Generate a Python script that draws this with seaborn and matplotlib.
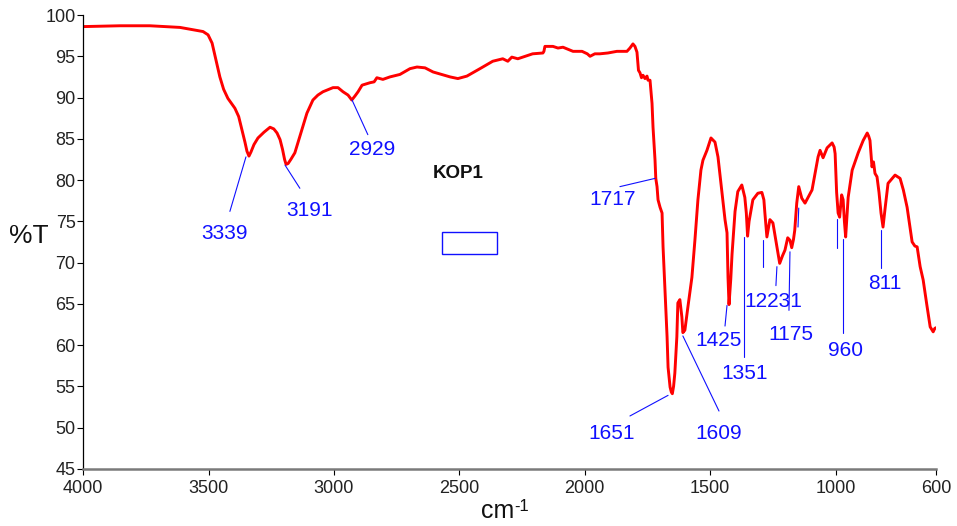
import matplotlib
matplotlib.use("Agg")
import matplotlib.pyplot as plt
import matplotlib.patches as mpatches
import pandas as pd
import seaborn as sns

# FTIR spectrum of sample KOP1 (wavenumber in cm-1, transmittance in %)
wavenumber = [
    4000, 3853, 3734, 3614, 3522, 3502, 3486, 3470, 3455, 3440, 3423, 3395,
    3380, 3367, 3355, 3347, 3339, 3331, 3319, 3303, 3279, 3255, 3240, 3227,
    3215, 3205, 3197, 3191, 3183, 3172, 3156, 3132, 3108, 3084, 3064, 3044,
    3004, 2984, 2964, 2944, 2929, 2916, 2904, 2888, 2856, 2840, 2829, 2805,
    2777, 2737, 2697, 2669, 2637, 2605, 2537, 2506, 2470, 2418, 2367, 2327,
    2307, 2291, 2267, 2208, 2167, 2163, 2159, 2127, 2107, 2087, 2047, 2011,
    1990, 1979, 1960, 1940, 1908, 1872, 1832, 1820, 1808, 1800, 1792, 1786,
    1780, 1774, 1768, 1760, 1752, 1748, 1740, 1732, 1728, 1720, 1717, 1712,
    1708, 1700, 1692, 1688, 1680, 1672, 1668, 1660, 1655, 1651, 1646, 1641,
    1633, 1629, 1621, 1613, 1609, 1601, 1589, 1573, 1561, 1549, 1537, 1529,
    1513, 1497, 1481, 1469, 1453, 1441, 1433, 1429, 1425, 1418, 1413, 1401,
    1390, 1374, 1362, 1356, 1351, 1345, 1330, 1310, 1294, 1286, 1282, 1274,
    1262, 1250, 1236, 1223, 1212, 1202, 1191, 1182, 1175, 1168, 1163, 1155,
    1147, 1135, 1122, 1094, 1070, 1062, 1050, 1034, 1014, 1006, 1002, 996,
    990, 984, 976, 970, 965, 960, 955, 950, 934, 910, 890, 874, 868, 863,
    855, 849, 843, 835, 827, 819, 811, 803, 791, 763, 743, 730, 715, 695,
    684, 675, 663, 651, 637, 623, 611, 605, 600,
]
transmittance = [
    98.6, 98.7, 98.7, 98.5, 98.0, 97.6, 96.6, 94.5, 92.5, 91.0, 89.9, 88.7,
    87.7, 86.1, 84.6, 83.5, 82.9, 83.4, 84.3, 85.1, 85.8, 86.4, 86.2, 85.7,
    84.9, 83.7, 82.5, 81.9, 82.0, 82.5, 83.3, 85.7, 88.1, 89.7, 90.3, 90.7,
    91.2, 91.2, 90.7, 90.3, 89.7, 90.2, 90.7, 91.5, 91.8, 91.9, 92.4, 92.2,
    92.5, 92.8, 93.5, 93.7, 93.6, 93.1, 92.5, 92.3, 92.6, 93.5, 94.4, 94.7,
    94.4, 94.9, 94.7, 95.3, 95.4, 95.6, 96.2, 96.2, 96.0, 96.1, 95.6, 95.6,
    95.3, 95.0, 95.3, 95.3, 95.4, 95.6, 95.6, 96.0, 96.5, 96.2, 95.5, 93.3,
    93.0, 92.4, 92.7, 92.3, 92.6, 92.1, 92.1, 89.3, 86.4, 82.4, 80.2, 79.2,
    77.6, 76.7, 76.0, 71.9, 66.3, 61.0, 57.3, 54.9, 54.3, 54.1, 55.0, 56.6,
    61.0, 65.1, 65.5, 63.4, 61.5, 61.8, 64.6, 68.2, 72.7, 77.6, 81.2, 82.4,
    83.6, 85.1, 84.6, 82.8, 78.4, 75.2, 73.6, 68.2, 64.9, 68.0, 71.0, 76.2,
    78.6, 79.4, 77.9, 76.0, 73.2, 75.0, 77.6, 78.4, 78.5, 77.6, 76.0, 73.1,
    75.2, 74.8, 72.3, 69.9, 70.8, 71.5, 73.0, 72.7, 71.8, 72.8, 73.9, 77.2,
    79.2, 77.8, 77.2, 78.8, 82.8, 83.6, 82.7, 83.9, 84.5, 84.0, 83.2, 78.5,
    76.0, 75.5, 78.2, 77.6, 75.0, 73.1, 75.5, 77.9, 81.2, 83.3, 84.8, 85.7,
    85.3, 84.8, 81.6, 82.2, 80.8, 80.4, 78.5, 76.0, 74.3, 76.5, 79.6, 80.6,
    80.2, 78.8, 76.7, 72.5, 72.0, 71.9, 69.5, 67.9, 65.0, 62.2, 61.6, 62.0,
    62.1,
]

# Peak labels: text anchor and leader line (from text end to the band)
peak_labels = ["3339", "3191", "2929", "1717", "1651", "1609",
               "1425", "1351", "12231", "1175", "960", "811"]
label_wn = [3435, 3096, 2849, 1888, 1892, 1465, 1465, 1362, 1250, 1178, 959, 804]
label_t = [73.5, 76.3, 83.7, 77.6, 49.3, 49.3, 60.6, 56.5, 65.3, 61.3, 59.3, 67.4]

leader_wn0 = [3415, 3136, 2865, 1860, 1820, 1465, 1441, 1366, 1290, 1234, 1182, 1147, 995, 971, 820]
leader_t0 = [76.2, 79.0, 85.5, 79.2, 51.4, 52.0, 62.3, 73.1, 72.7, 69.5, 71.3, 76.6, 75.3, 72.8, 73.9]
leader_wn1 = [3351, 3195, 2928, 1720, 1668, 1609, 1433, 1366, 1290, 1238, 1186, 1150, 995, 971, 820]
leader_t1 = [82.8, 81.8, 89.7, 80.2, 53.9, 61.1, 64.8, 58.5, 69.5, 67.2, 64.2, 74.3, 71.8, 61.5, 69.3]

sample_name = "KOP1"
sample_box_wn = [2570, 2351]
sample_box_t = [71.0, 73.7]

x_ticks = [4000, 3500, 3000, 2500, 2000, 1500, 1000, 600]
y_ticks = [45, 50, 55, 60, 65, 70, 75, 80, 85, 90, 95, 100]

sns.set_style("ticks")
plt.rcParams["font.family"] = ["Liberation Sans", "DejaVu Sans"]

fig = plt.figure(figsize=(9.57, 5.26), dpi=100)
ax = fig.add_axes([0.0869, 0.1088, 0.8911, 0.8626])

df = pd.DataFrame({"wavenumber": wavenumber, "T": transmittance})
sns.lineplot(data=df, x="wavenumber", y="T", sort=False, color="#ff0000",
             linewidth=2.1, ax=ax)

blue = "#1010ff"
for w0, t0, w1, t1 in zip(leader_wn0, leader_t0, leader_wn1, leader_t1):
    ax.plot([w0, w1], [t0, t1], color=blue, linewidth=0.8)
for lab, w, t in zip(peak_labels, label_wn, label_t):
    ax.text(w, t, lab, color=blue, fontsize=15, ha="center", va="center")

ax.text(2506, 80.8, sample_name, fontsize=13.5, fontweight="bold",
        color="#111111", ha="center", va="center")
ax.add_patch(mpatches.Rectangle((sample_box_wn[1], sample_box_t[0]),
                                sample_box_wn[0] - sample_box_wn[1],
                                sample_box_t[1] - sample_box_t[0],
                                fill=False, edgecolor=blue, linewidth=1.0))

ax.set_xlim(4000, 600)
ax.set_ylim(45, 100)
ax.set_xticks(x_ticks)
ax.set_yticks(y_ticks)
ax.set_xticklabels([str(v) for v in x_ticks])
ax.set_yticklabels([str(v) for v in y_ticks])
ax.set_xlabel("")
ax.set_ylabel("")
ax.tick_params(axis="both", direction="out", length=4, width=0.8,
               color="black", labelsize=13, labelcolor="#222222")
ax.tick_params(axis="x", pad=4)
ax.tick_params(axis="y", pad=1.5)

for side in ("top", "right"):
    ax.spines[side].set_visible(False)
ax.spines["left"].set_color("black")
ax.spines["left"].set_linewidth(0.9)
ax.spines["bottom"].set_color("#7a7a7a")
ax.spines["bottom"].set_linewidth(1.8)

fig.text(29 / 957, 1 - 236 / 526, "%T", fontsize=19, ha="center", va="center",
         color="#111111")
fig.text(514 / 957, 1 - 518 / 526, "cm", fontsize=18, ha="right",
         va="baseline", color="#111111")
fig.text(514 / 957, 1 - 511 / 526, "-1", fontsize=12, ha="left",
         va="baseline", color="#111111")

fig.savefig("out.png", dpi=100)
